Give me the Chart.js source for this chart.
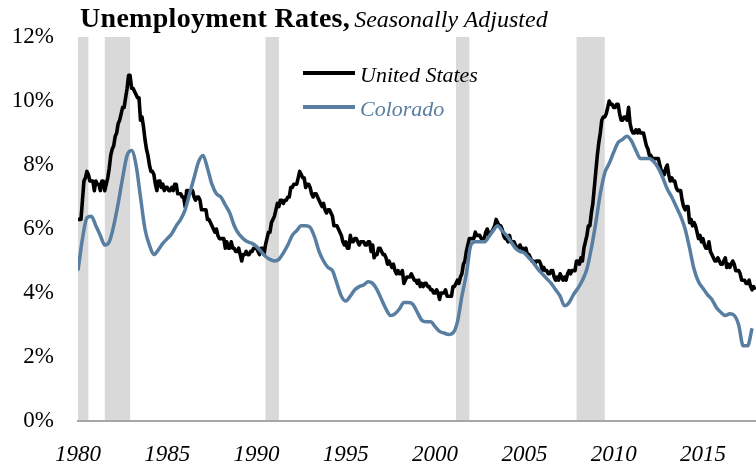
<!DOCTYPE html>
<html>
<head>
<meta charset="utf-8">
<script src="https://cdn.jsdelivr.net/npm/chart.js@4"></script>
<style>
  html, body { margin: 0; padding: 0; background: #fff; }
  #wrap { position: relative; width: 756px; height: 464px; font-family: "Liberation Serif", serif; }
  #title { position: absolute; left: 80px; top: 4px; white-space: nowrap; line-height: 28px; color: #000; }
  #title b { font-size: 28px; font-weight: bold; letter-spacing: 0.3px; }
  #title i { font-size: 24px; }
  .leg-line { position: absolute; left: 303px; width: 52px; height: 4px; }
  .leg-text { position: absolute; left: 360px; font-size: 22px; font-style: italic; line-height: 22px; white-space: nowrap; }
  canvas { position: absolute; left: 0; top: 0; }
</style>
</head>
<body>
<div id="wrap">
  <canvas id="unempChart" width="756" height="464"></canvas>
  <div id="title"><b>Unemployment Rates,</b> <i>Seasonally Adjusted</i></div>
  <div class="leg-line" id="legUS" style="top:71px;"></div>
  <div class="leg-text" id="legUSText" style="top:64px;"></div>
  <div class="leg-line" id="legCO" style="top:105px;"></div>
  <div class="leg-text" id="legCOText" style="top:98px;"></div>
</div>
<script>
// ---------- DATA ----------
const seriesNames = ["United States", "Colorado"];
const startYear = 1980;

// US, monthly, Jan 1980 - Dec 2017
const usValues = [
  6.3, 6.3, 6.3, 6.9, 7.5, 7.6, 7.8, 7.7, 7.5, 7.5, 7.5, 7.2,
  7.5, 7.4, 7.4, 7.2, 7.5, 7.5, 7.2, 7.4, 7.6, 7.9, 8.3, 8.5,
  8.6, 8.9, 9.0, 9.3, 9.4, 9.6, 9.8, 9.8, 10.1, 10.4, 10.8, 10.8,
  10.4, 10.4, 10.3, 10.2, 10.1, 10.1, 9.4, 9.5, 9.2, 8.8, 8.5, 8.3,
  8.0, 7.8, 7.8, 7.7, 7.4, 7.2, 7.5, 7.5, 7.3, 7.4, 7.2, 7.3,
  7.3, 7.2, 7.2, 7.3, 7.2, 7.4, 7.4, 7.1, 7.1, 7.1, 7.0, 7.0,
  6.7, 7.2, 7.2, 7.1, 7.2, 7.2, 7.0, 6.9, 7.0, 7.0, 6.9, 6.6,
  6.6, 6.6, 6.6, 6.3, 6.3, 6.2, 6.1, 6.0, 5.9, 6.0, 5.8, 5.7,
  5.7, 5.7, 5.7, 5.4, 5.6, 5.4, 5.4, 5.6, 5.4, 5.4, 5.3, 5.3,
  5.4, 5.2, 5.0, 5.2, 5.2, 5.3, 5.2, 5.2, 5.3, 5.3, 5.4, 5.4,
  5.4, 5.3, 5.2, 5.4, 5.4, 5.2, 5.5, 5.7, 5.9, 5.9, 6.2, 6.3,
  6.4, 6.6, 6.8, 6.7, 6.9, 6.9, 6.8, 6.9, 6.9, 7.0, 7.0, 7.3,
  7.3, 7.4, 7.4, 7.4, 7.6, 7.8, 7.7, 7.6, 7.6, 7.3, 7.4, 7.4,
  7.3, 7.1, 7.0, 7.1, 7.1, 7.0, 6.9, 6.8, 6.7, 6.8, 6.6, 6.5,
  6.6, 6.6, 6.5, 6.4, 6.1, 6.1, 6.1, 6.0, 5.9, 5.8, 5.6, 5.5,
  5.6, 5.4, 5.4, 5.8, 5.6, 5.6, 5.7, 5.7, 5.6, 5.5, 5.6, 5.6,
  5.6, 5.5, 5.5, 5.6, 5.6, 5.3, 5.5, 5.1, 5.2, 5.2, 5.4, 5.4,
  5.3, 5.2, 5.2, 5.1, 4.9, 5.0, 4.9, 4.8, 4.9, 4.7, 4.6, 4.7,
  4.6, 4.6, 4.7, 4.3, 4.4, 4.5, 4.5, 4.5, 4.6, 4.5, 4.4, 4.4,
  4.3, 4.4, 4.2, 4.3, 4.2, 4.3, 4.3, 4.2, 4.2, 4.1, 4.1, 4.0,
  4.0, 4.1, 4.0, 3.8, 4.0, 4.0, 4.0, 4.1, 3.9, 3.9, 3.9, 3.9,
  4.2, 4.2, 4.3, 4.4, 4.3, 4.5, 4.6, 4.9, 5.0, 5.3, 5.5, 5.7,
  5.7, 5.7, 5.7, 5.9, 5.8, 5.8, 5.8, 5.7, 5.7, 5.7, 5.9, 6.0,
  5.8, 5.9, 5.9, 6.0, 6.1, 6.3, 6.2, 6.1, 6.1, 6.0, 5.8, 5.7,
  5.7, 5.6, 5.8, 5.6, 5.6, 5.6, 5.5, 5.4, 5.4, 5.5, 5.4, 5.4,
  5.3, 5.4, 5.2, 5.2, 5.1, 5.0, 5.0, 4.9, 5.0, 5.0, 5.0, 4.9,
  4.7, 4.8, 4.7, 4.7, 4.6, 4.6, 4.7, 4.7, 4.5, 4.4, 4.5, 4.4,
  4.6, 4.5, 4.4, 4.5, 4.4, 4.6, 4.7, 4.6, 4.7, 4.7, 4.7, 5.0,
  5.0, 4.9, 5.1, 5.0, 5.4, 5.6, 5.8, 6.1, 6.1, 6.5, 6.8, 7.3,
  7.8, 8.3, 8.7, 9.0, 9.4, 9.5, 9.5, 9.6, 9.8, 10.0, 9.9, 9.9,
  9.8, 9.8, 9.9, 9.9, 9.6, 9.4, 9.4, 9.5, 9.5, 9.4, 9.8, 9.3,
  9.1, 9.0, 9.0, 9.1, 9.0, 9.1, 9.0, 9.0, 9.0, 8.8, 8.6, 8.5,
  8.3, 8.3, 8.2, 8.2, 8.2, 8.2, 8.2, 8.0, 7.8, 7.8, 7.7, 7.9,
  8.0, 7.7, 7.5, 7.6, 7.5, 7.5, 7.3, 7.2, 7.2, 7.2, 6.9, 6.7,
  6.6, 6.7, 6.7, 6.2, 6.3, 6.1, 6.2, 6.1, 5.9, 5.7, 5.8, 5.6,
  5.7, 5.5, 5.4, 5.4, 5.6, 5.3, 5.2, 5.1, 5.0, 5.0, 5.1, 5.0,
  4.9, 4.9, 5.0, 5.1, 4.8, 4.9, 4.8, 4.9, 5.0, 4.9, 4.7, 4.7,
  4.7, 4.6, 4.4, 4.4, 4.4, 4.3, 4.3, 4.4, 4.2, 4.1, 4.2, 4.1
];

const coValues = [
  4.7, 5.7, 6.35, 6.4,
  6.1, 5.8, 5.5, 5.6,
  6.1, 6.8, 7.6, 8.3,
  8.45, 8.0, 7.0, 6.0,
  5.5, 5.2, 5.35, 5.55,
  5.7, 5.85, 6.1, 6.3,
  6.6, 7.1, 7.6, 8.1,
  8.3, 7.9, 7.4, 7.1,
  7.0, 6.75, 6.5, 6.1,
  5.85, 5.7, 5.6, 5.55,
  5.45, 5.3, 5.15, 5.05,
  5.0, 5.05, 5.25, 5.5,
  5.8, 5.95, 6.1, 6.1,
  6.05, 5.75, 5.3, 5.0,
  4.8, 4.7, 4.3, 3.9,
  3.75, 3.9, 4.1, 4.2,
  4.25, 4.35, 4.3, 4.1,
  3.8, 3.5, 3.3, 3.35,
  3.5, 3.7, 3.7, 3.65,
  3.4, 3.15, 3.1, 3.1,
  2.95, 2.8, 2.75, 2.7,
  2.75, 3.1, 3.9, 4.6,
  5.5, 5.6, 5.6, 5.6,
  5.75, 5.95, 6.1, 5.95,
  5.8, 5.6, 5.4, 5.3,
  5.25, 5.1, 4.95, 4.75,
  4.6, 4.45, 4.3, 4.1,
  3.9, 3.6, 3.7, 3.95,
  4.15, 4.4, 4.75, 5.4,
  6.2, 7.1, 7.75, 8.05,
  8.4, 8.7, 8.8, 8.9,
  8.75, 8.45, 8.2, 8.2,
  8.2, 8.1, 7.9, 7.6,
  7.25, 7.0, 6.7, 6.4,
  6.0, 5.4, 4.75, 4.35,
  4.15, 3.95, 3.8, 3.55,
  3.4, 3.3, 3.35, 3.3,
  3.0, 2.35, 2.35, 2.9
];

// recessions (decimal years)
const recessionStart = [1980.0, 1981.5, 1990.5, 2001.17, 2007.92];
const recessionEnd = [1980.58, 1982.92, 1991.25, 2001.92, 2009.5];

const yTicks = [0, 2, 4, 6, 8, 10, 12];
const xTickYears = [1980, 1985, 1990, 1995, 2000, 2005, 2010, 2015];

// ---------- STYLE ----------
const US_COLOR = "#000000";
const CO_COLOR = "#587ea1";
const FONT = "'Liberation Serif', serif";

// ---------- LEGEND (html) ----------
document.getElementById("legUS").style.background = US_COLOR;
document.getElementById("legCO").style.background = CO_COLOR;
document.getElementById("legUSText").textContent = seriesNames[0];
document.getElementById("legUSText").style.color = US_COLOR;
document.getElementById("legCOText").textContent = seriesNames[1];
document.getElementById("legCOText").style.color = CO_COLOR;

// ---------- RECESSION BANDS ----------
const recessionBands = {
  id: "recessionBands",
  beforeDraw(chart) {
    const { ctx, chartArea, scales } = chart;
    ctx.save();
    ctx.fillStyle = "#d9d9d9";
    for (let i = 0; i < recessionStart.length; i++) {
      const x0 = scales.x.getPixelForValue(recessionStart[i]);
      const x1 = scales.x.getPixelForValue(recessionEnd[i]);
      ctx.fillRect(x0, chartArea.top, x1 - x0, chartArea.bottom - chartArea.top);
    }
    ctx.restore();
  }
};

// ---------- CHART ----------
const usPoints = usValues.map((v, i) => ({ x: startYear + i / 12, y: v }));
const coPoints = coValues.map((v, i) => ({ x: startYear + i / 4, y: v }));

new Chart(document.getElementById("unempChart"), {
  type: "line",
  data: {
    datasets: [
      {
        label: seriesNames[0],
        data: usPoints,
        borderColor: US_COLOR,
        borderWidth: 3.6,
        borderJoinStyle: "round",
        pointRadius: 0,
        tension: 0,
        order: 1
      },
      {
        label: seriesNames[1],
        data: coPoints,
        borderColor: CO_COLOR,
        borderWidth: 3.5,
        borderJoinStyle: "round",
        pointRadius: 0,
        cubicInterpolationMode: "monotone",
        order: 0
      }
    ]
  },
  options: {
    responsive: false,
    animation: false,
    devicePixelRatio: 1,
    layout: { padding: { top: 37, left: 0, right: 0, bottom: 0 } },
    plugins: {
      legend: { display: false },
      title: { display: false },
      tooltip: { enabled: false }
    },
    scales: {
      x: {
        type: "linear",
        min: 1980,
        max: 2017.97,
        grid: { display: false },
        border: { display: true, color: "#a6a6a6", width: 2 },
        afterFit: (s) => { s.height = 43; },
        afterBuildTicks: (s) => { s.ticks = xTickYears.map((v) => ({ value: v })); },
        ticks: {
          includeBounds: false,
          maxRotation: 0,
          autoSkip: false,
          padding: 12,
          color: "#000",
          font: { family: FONT, size: 23, style: "italic" },
          callback: (v) => String(v)
        }
      },
      y: {
        min: 0,
        max: 12,
        grid: { display: false },
        border: { display: false },
        afterFit: (s) => { s.width = 78; },
        afterBuildTicks: (s) => { s.ticks = yTicks.map((v) => ({ value: v })); },
        ticks: {
          padding: 16,
          color: "#000",
          font: { family: FONT, size: 23 },
          callback: (v) => v + "%"
        }
      }
    }
  },
  plugins: [recessionBands]
});
</script>
</body>
</html>
